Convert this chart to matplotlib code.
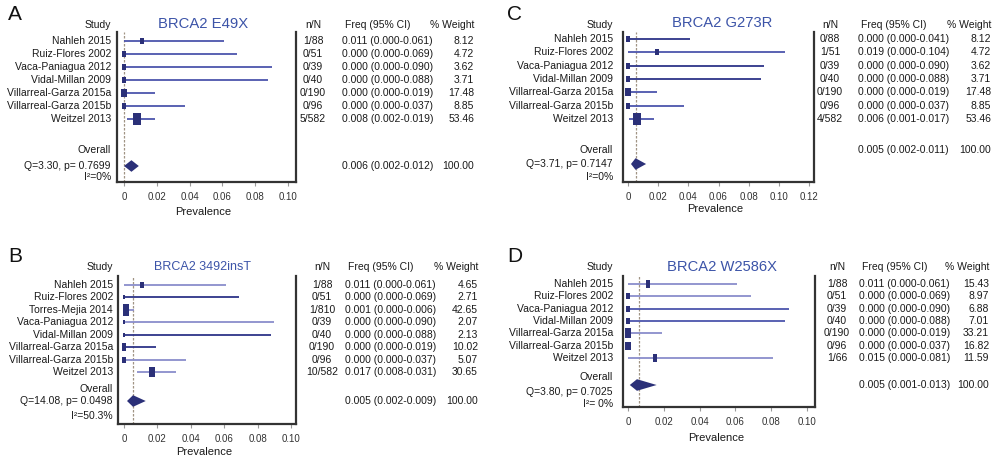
import matplotlib.pyplot as plt
import matplotlib.transforms as mtransforms
from matplotlib.patches import Polygon
import numpy as np

plt.rcParams['font.family'] = ['Liberation Sans', 'DejaVu Sans']

# ---------------- data ----------------
studies_7 = ['Nahleh 2015', 'Ruiz-Flores 2002', 'Vaca-Paniagua 2012', 'Vidal-Millan 2009',
             'Villarreal-Garza 2015a', 'Villarreal-Garza 2015b', 'Weitzel 2013']
studies_8 = ['Nahleh 2015', 'Ruiz-Flores 2002', 'Torres-Mejia 2014', 'Vaca-Paniagua 2012',
             'Vidal-Millan 2009', 'Villarreal-Garza 2015a', 'Villarreal-Garza 2015b', 'Weitzel 2013']

# A: BRCA2 E49X
nN_A = ['1/88', '0/51', '0/39', '0/40', '0/190', '0/96', '5/582']
est_A = [0.011, 0.000, 0.000, 0.000, 0.000, 0.000, 0.008]
lo_A = [0.000, 0.000, 0.000, 0.000, 0.000, 0.000, 0.002]
hi_A = [0.061, 0.069, 0.090, 0.088, 0.019, 0.037, 0.019]
wt_A = [8.12, 4.72, 3.62, 3.71, 17.48, 8.85, 53.46]
overall_A = '0.006 (0.002-0.012)'
diam_A = [0.000, 0.0045, 0.009]
q_A = 'Q=3.30, p= 0.7699'
i2_A = 'I²=0%'

# B: BRCA2 3492insT
nN_B = ['1/88', '0/51', '1/810', '0/39', '0/40', '0/190', '0/96', '10/582']
est_B = [0.011, 0.000, 0.001, 0.000, 0.000, 0.000, 0.000, 0.017]
lo_B = [0.000, 0.000, 0.000, 0.000, 0.000, 0.000, 0.000, 0.008]
hi_B = [0.061, 0.069, 0.006, 0.090, 0.088, 0.019, 0.037, 0.031]
wt_B = [4.65, 2.71, 42.65, 2.07, 2.13, 10.02, 5.07, 30.65]
overall_B = '0.005 (0.002-0.009)'
diam_B = [0.0018, 0.0054, 0.013]
q_B = 'Q=14.08, p= 0.0498'
i2_B = 'I²=50.3%'

# C: BRCA2 G273R
nN_C = ['0/88', '1/51', '0/39', '0/40', '0/190', '0/96', '4/582']
est_C = [0.000, 0.019, 0.000, 0.000, 0.000, 0.000, 0.006]
lo_C = [0.000, 0.000, 0.000, 0.000, 0.000, 0.000, 0.001]
hi_C = [0.041, 0.104, 0.090, 0.088, 0.019, 0.037, 0.017]
wt_C = [8.12, 4.72, 3.62, 3.71, 17.48, 8.85, 53.46]
overall_C = '0.005 (0.002-0.011)'
diam_C = [0.002, 0.005, 0.012]
q_C = 'Q=3.71, p= 0.7147'
i2_C = 'I²=0%'

# D: BRCA2 W2586X
nN_D = ['1/88', '0/51', '0/39', '0/40', '0/190', '0/96', '1/66']
est_D = [0.011, 0.000, 0.000, 0.000, 0.000, 0.000, 0.015]
lo_D = [0.000, 0.000, 0.000, 0.000, 0.000, 0.000, 0.000]
hi_D = [0.061, 0.069, 0.090, 0.088, 0.019, 0.037, 0.081]
wt_D = [15.43, 8.97, 6.88, 7.01, 33.21, 16.82, 11.59]
overall_D = '0.005 (0.001-0.013)'
diam_D = [0.001, 0.005, 0.016]
q_D = 'Q=3.80, p= 0.7025'
i2_D = 'I²= 0%'

# ---------------- styling ----------------
LIGHT = '#8a8ecb'
MID = '#4c55ad'
DARK = '#2d3488'
NAVY = '#2b3078'
TITLE_COL = '#3c54a8'
SPINE = '#333333'
TXT = '#1a1a1a'

lines_A = [MID] * 7
lines_B = [LIGHT, DARK, LIGHT, LIGHT, DARK, DARK, LIGHT, LIGHT]
lines_C = [DARK, MID, DARK, DARK, MID, MID, MID]
lines_D = [LIGHT, LIGHT, MID, MID, LIGHT, 'none', LIGHT]  # VGb line not shown in D

W, H = 1000, 463
fig = plt.figure(figsize=(10, 4.63), dpi=100)

rect_marker = [(-0.3, -0.5), (0.3, -0.5), (0.3, 0.5), (-0.3, 0.5), (-0.3, -0.5)]
FS = 7.5


def draw_panel(lay, studies, nN, est, lo, hi, wt, lcols, overall, diam, q, i2, vline):
    l, t, r, b = lay['box']
    ax = fig.add_axes([l / W, 1 - b / H, (r - l) / W, (b - t) / H])
    y0, dy = lay['y0'], lay['dy']
    k = lambda ypx: (ypx - y0) / dy
    ax.set_ylim(k(b), k(t))
    ax.set_xlim(*lay['xlim'])
    ax.set_yticks([])
    ticks = lay['xticks']
    ax.set_xticks(ticks)
    ax.set_xticklabels(['0'] + ['%.2f' % v for v in ticks[1:]])
    ax.tick_params(axis='x', length=3, width=0.8, color='#9a9a9a', labelsize=7,
                   labelcolor='#333333', pad=4)
    ax.spines['top'].set_visible(False)
    for s in ['left', 'right', 'bottom']:
        ax.spines[s].set_color(SPINE)
        ax.spines[s].set_linewidth(1.6)

    ax.axvline(vline, color='#a09484', lw=0.9, ls=(0, (2, 1.2)), zorder=1)

    rows = np.arange(len(studies))
    for i in rows:
        ax.plot([lo[i], hi[i]], [i, i], color=lcols[i], lw=1.3, zorder=2, solid_capstyle='butt')
        h_px = 3.5 * wt[i] ** 0.31
        ax.plot(est[i], i, marker=rect_marker, markersize=h_px * 0.72, color=NAVY,
                markeredgewidth=0, zorder=3, clip_on=True)

    yd = k(lay['diam_y'])
    hh = 5.8 / dy
    ax.add_patch(Polygon([(diam[0], yd), (diam[1], yd - hh), (diam[2], yd), (diam[1], yd + hh)],
                         closed=True, color=NAVY, lw=0, zorder=3))

    tr = mtransforms.blended_transform_factory(fig.transFigure, ax.transData)
    for i in rows:
        ax.text(lay['study_x'] / W, i, studies[i], transform=tr, ha='right', va='center',
                fontsize=FS, color=TXT)
        ax.text(lay['nN_x'] / W, i, nN[i], transform=tr, ha='center', va='center',
                fontsize=FS, color=TXT)
        ax.text(lay['freq_x'] / W, i, '%.3f (%.3f-%.3f)' % (est[i], lo[i], hi[i]),
                transform=tr, ha='left', va='center', fontsize=FS, color=TXT)
        ax.text(lay['wt_x'] / W, i, '%.2f' % wt[i], transform=tr, ha='right', va='center',
                fontsize=FS, color=TXT)

    def ftext(x, y, s, **kw):
        kw.setdefault('fontsize', FS)
        kw.setdefault('color', TXT)
        kw.setdefault('va', 'center')
        fig.text(x / W, 1 - y / H, s, **kw)

    hy = lay['header_y']
    ftext(lay['study_x'], hy, 'Study', ha='right')
    ftext(lay['nN_x'], hy, 'n/N', ha='center')
    ftext(lay['freq_x'] + 36, hy, 'Freq (95% CI)', ha='center')
    ftext(lay['wt_x'], hy, '% Weight', ha='right')
    ftext(lay['title_x'], lay['title_y'], lay['title'], ha='center',
          fontsize=lay['title_fs'], color=TITLE_COL)
    ftext(lay['letter'][0], lay['letter'][1], lay['letter_txt'], ha='center',
          fontsize=15, color='#111111')

    ftext(lay['study_x'], lay['overall_y'], 'Overall', ha='right')
    ftext(lay['study_x'], lay['q_y'], q, ha='right')
    ftext(lay['study_x'], lay['i2_y'], i2, ha='right')
    ftext(lay['freq_x'], lay['ovfreq_y'], overall, ha='left')
    ftext(lay['wt_x'], lay['ovfreq_y'], '100.00', ha='right')
    ftext((l + r) / 2 - 3, lay['xlabel_y'], 'Prevalence', ha='center', fontsize=8)
    return ax


lay_A = dict(box=(117, 32, 296, 182), xlim=(-0.0043, 0.1049), xticks=[0, 0.02, 0.04, 0.06, 0.08, 0.10],
             y0=41, dy=13.0, study_x=111, nN_x=313, freq_x=342, wt_x=474, header_y=25,
             title='BRCA2 E49X', title_x=203, title_y=24, title_fs=10.7,
             letter=(15, 15), letter_txt='A', overall_y=150, diam_y=166, q_y=166, i2_y=177,
             ovfreq_y=166, xlabel_y=212)
lay_B = dict(box=(118, 276, 296, 424), xlim=(-0.0036, 0.1030), xticks=[0, 0.02, 0.04, 0.06, 0.08, 0.10],
             y0=285, dy=12.43, study_x=113, nN_x=322, freq_x=345, wt_x=478, header_y=267,
             title='BRCA2 3492insT', title_x=203, title_y=267, title_fs=9,
             letter=(15, 256), letter_txt='B', overall_y=389, diam_y=401, q_y=401, i2_y=416,
             ovfreq_y=401, xlabel_y=452)
lay_C = dict(box=(623, 32, 814, 182), xlim=(-0.0033, 0.1233),
             xticks=[0, 0.02, 0.04, 0.06, 0.08, 0.10, 0.12],
             y0=39, dy=13.33, study_x=613, nN_x=830, freq_x=858, wt_x=991, header_y=25,
             title='BRCA2 G273R', title_x=722, title_y=23, title_fs=10.6,
             letter=(515, 15), letter_txt='C', overall_y=150, diam_y=164, q_y=164, i2_y=177,
             ovfreq_y=150, xlabel_y=209)
lay_D = dict(box=(623, 276, 815, 407), xlim=(-0.0028, 0.1045), xticks=[0, 0.02, 0.04, 0.06, 0.08, 0.10],
             y0=284, dy=12.33, study_x=613, nN_x=837, freq_x=859, wt_x=989, header_y=267,
             title='BRCA2 W2586X', title_x=722, title_y=267, title_fs=10.6,
             letter=(515, 256), letter_txt='D', overall_y=377, diam_y=385, q_y=392, i2_y=404,
             ovfreq_y=385, xlabel_y=438)

draw_panel(lay_A, studies_7, nN_A, est_A, lo_A, hi_A, wt_A, lines_A, overall_A, diam_A, q_A, i2_A, 0.0)
draw_panel(lay_B, studies_8, nN_B, est_B, lo_B, hi_B, wt_B, lines_B, overall_B, diam_B, q_B, i2_B, 0.0054)
draw_panel(lay_C, studies_7, nN_C, est_C, lo_C, hi_C, wt_C, lines_C, overall_C, diam_C, q_C, i2_C, 0.0053)
draw_panel(lay_D, studies_7, nN_D, est_D, lo_D, hi_D, wt_D, lines_D, overall_D, diam_D, q_D, i2_D, 0.006)

fig.savefig('out.png', dpi=100, facecolor='white')
